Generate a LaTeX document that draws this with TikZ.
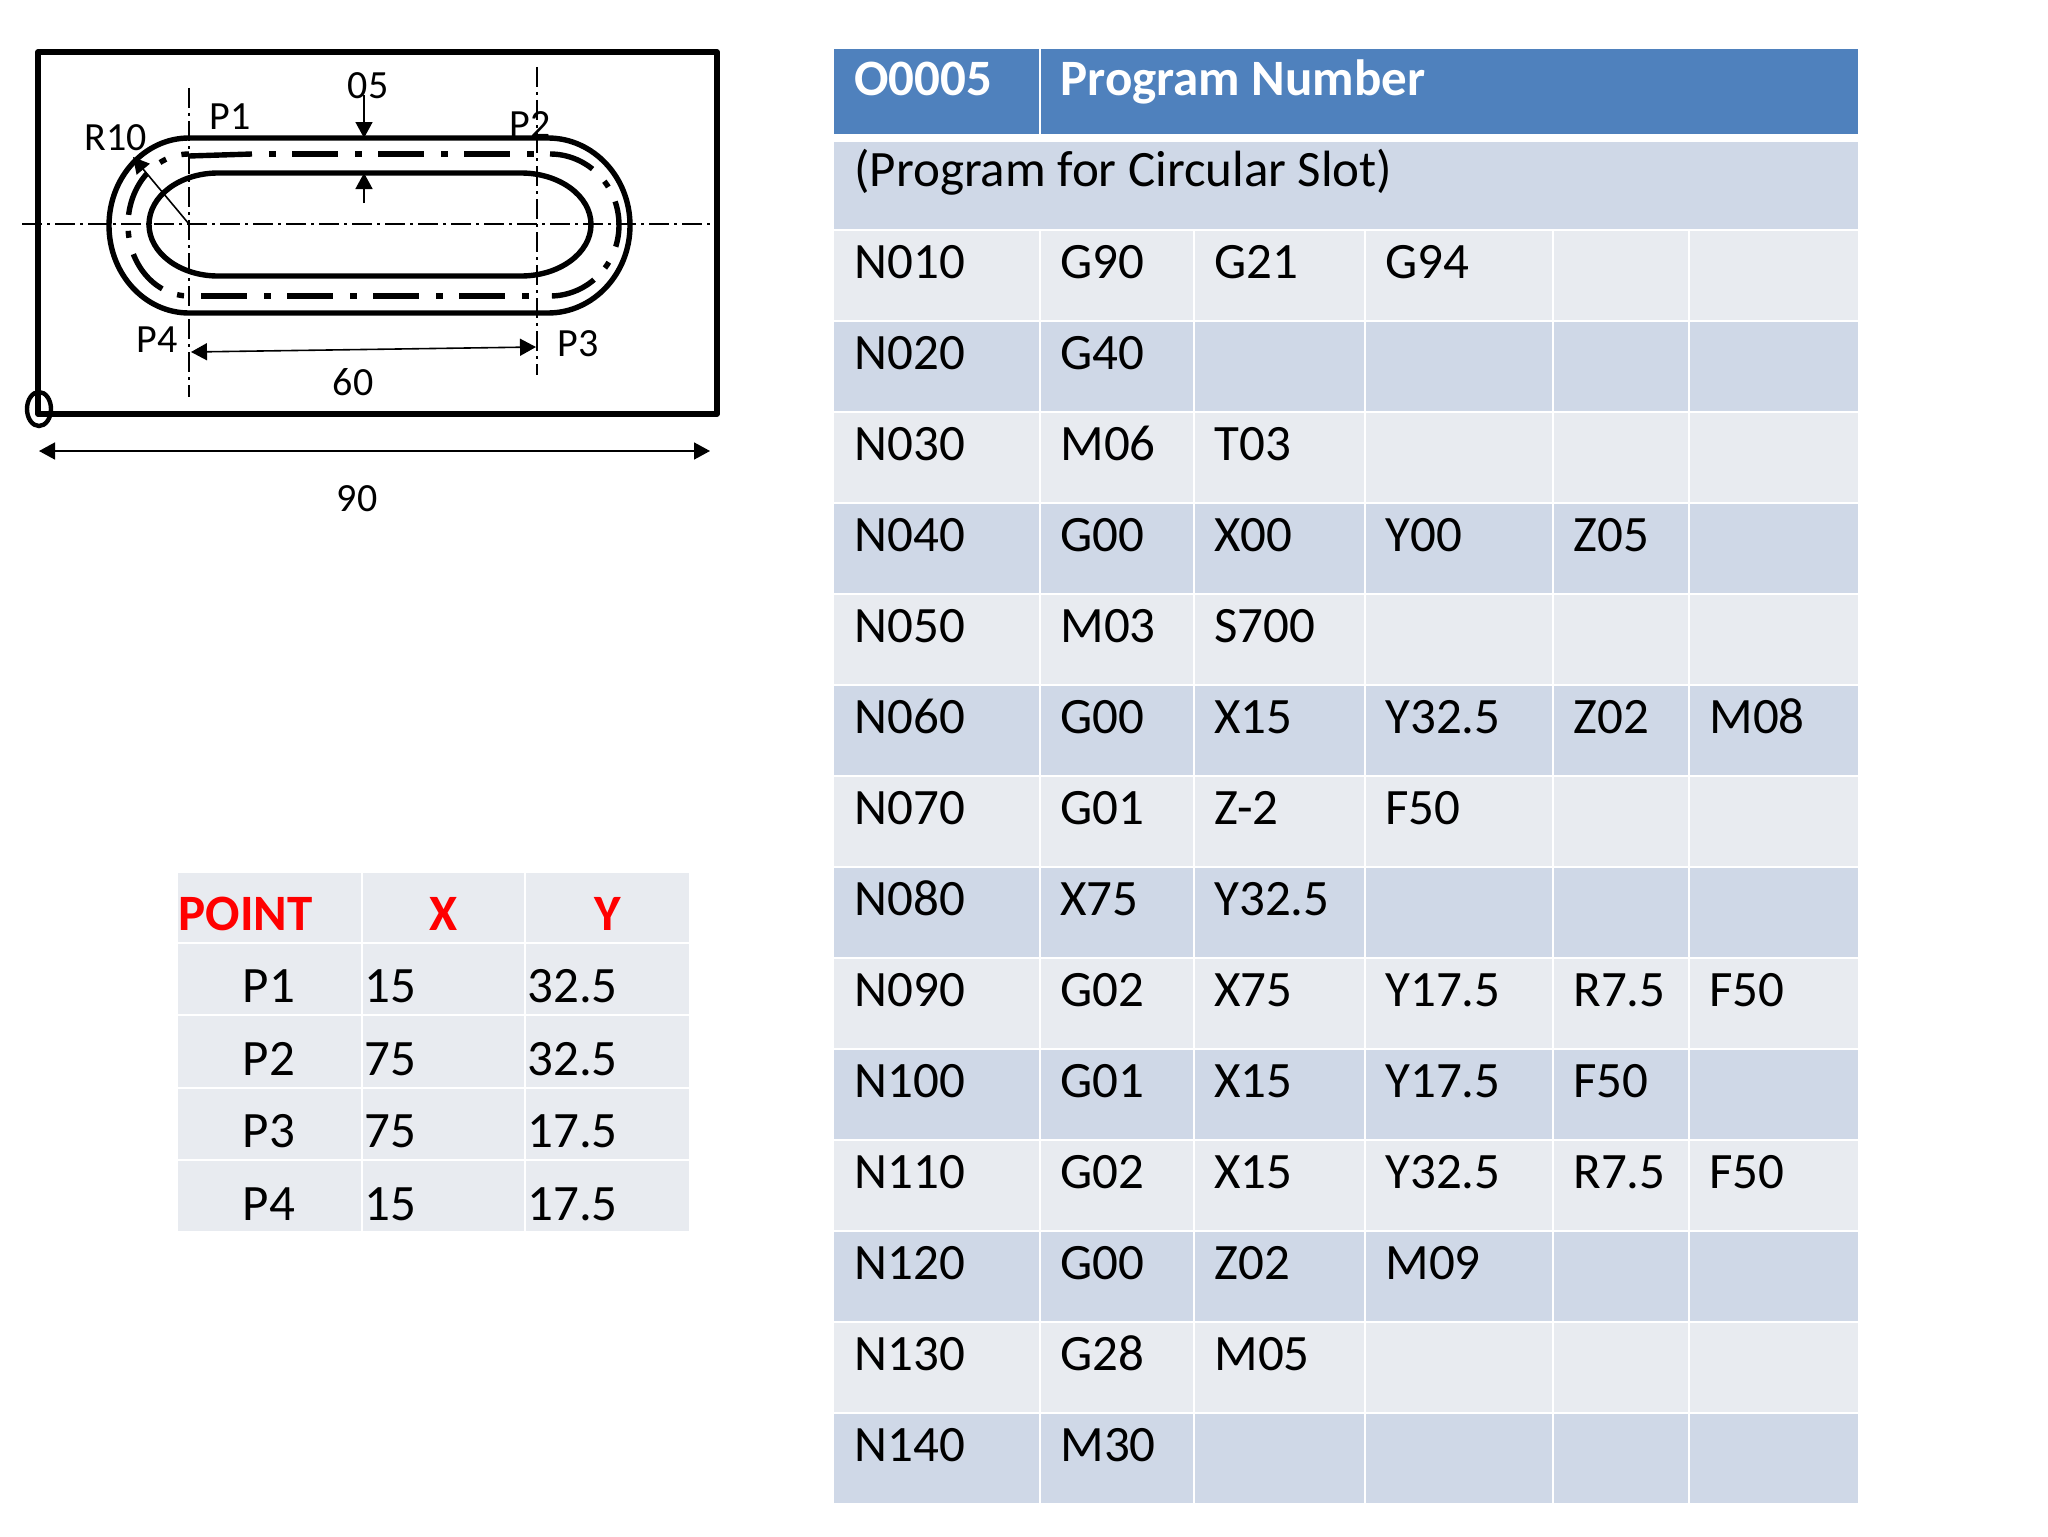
\documentclass[tikz,border=0pt]{standalone}
\usepackage{fontspec}
\setmainfont{Carlito}
\usetikzlibrary{arrows.meta}
\definecolor{headblue}{HTML}{4F81BD}
\definecolor{rowdark}{HTML}{CFD8E7}
\definecolor{rowlight}{HTML}{E8EBF0}
\tikzset{
  thickline/.style={line width=2.7pt,black,line join=round},
  cutpath/.style={line width=2.7pt,black,dash pattern=on 23pt off 8.5pt on 3.5pt off 8pt},
  centerline/.style={line width=0.8pt,black,dash pattern=on 10pt off 2.5pt on 1.5pt off 2.5pt},
  dimline/.style={line width=0.8pt,black,{Triangle[length=8pt,width=8.5pt]}-{Triangle[length=8pt,width=8.5pt]}},
  leader/.style={line width=0.8pt,black,-{Triangle[length=8pt,width=8.5pt]}},
  partlabel/.style={anchor=base,inner sep=0pt,font=\fontsize{20}{24}\selectfont},
  celltext/.style={anchor=base west,inner sep=0pt,font=\fontsize{25.5}{30}\selectfont},
  cellmid/.style={anchor=base,inner sep=0pt,font=\fontsize{25.5}{30}\selectfont},
  headtext/.style={celltext,text=white,font=\fontsize{25.5}{30}\selectfont\bfseries},
  redtext/.style={cellmid,text=red,font=\fontsize{25.5}{30}\selectfont\bfseries},
  cellbox/.style={draw=white,line width=1.3pt}
}

\begin{document}
\begin{tikzpicture}[x=0.5pt,y=-0.5pt]
\useasboundingbox (0,0) rectangle (2048,1536);

% Plate
\draw[thickline] (38,52) rectangle (717,414);
\draw[line width=2.2pt] (39,409) ellipse[x radius=12,y radius=17];

% Centre lines
\draw[centerline] (22,224) -- (716,224);
\draw[centerline] (189,88) -- (189,397);
\draw[centerline] (537,67) -- (537,375);

% Outer and inner slot
\draw[thickline] (189,138) -- (548,138) arc[start angle=-90,end angle=90,x radius=82,y radius=87.5]
  -- (189,313) arc[start angle=90,end angle=270,x radius=80,y radius=87.5];
\draw[thickline] (218,173) -- (521,173) arc[start angle=-90,end angle=90,x radius=70,y radius=51.5]
  -- (218,276) arc[start angle=90,end angle=270,x radius=69,y radius=51.5];

% Tool path
\draw[thickline] (189,156) -- (252,154);
\draw[cutpath,dash phase=31.5pt] (269,154) -- (540,154);
\draw[cutpath] (550,154) arc[start angle=-90,end angle=90,x radius=69,y radius=71];
\draw[cutpath] (201,296) -- (535,296);
\draw[cutpath,dash phase=29pt] (189,296) arc[start angle=90,end angle=270,x radius=61,y radius=71];

% Dimensions
\coordinate (radiusc) at (189,224);
\coordinate (radiusp) at (133,157);
\coordinate (depthtop) at (364,95);
\coordinate (depthout) at (364,138);
\coordinate (depthin) at (364,173);
\coordinate (depthlow) at (364,203);
\coordinate (pitchl) at (191,352);
\coordinate (pitchr) at (536,347);
\coordinate (widthl) at (39,451);
\coordinate (widthr) at (710,451);
\draw[leader] (radiusc) -- (radiusp);
\draw[leader] (depthtop) -- (depthout);
\draw[leader] (depthlow) -- (depthin);
\draw[dimline] (pitchl) -- (pitchr);
\draw[dimline] (widthl) -- (widthr);

% Drawing labels
\node[partlabel] (depth) at (368,98) {05};
\node[partlabel] (pa) at (230,129) {P1};
\node[partlabel] (pb) at (530,137) {P2};
\node[partlabel] (radius) at (116,150) {R10};
\node[partlabel] (pd) at (157,352) {P4};
\node[partlabel] (pc) at (578,356) {P3};
\node[partlabel] (pitch) at (353,395) {60};
\node[partlabel] (width) at (357,511) {90};

% Point table
\foreach \ya/\yb in {872/943,943/1015,1015/1088,1088/1160,1160/1232}
  \foreach \xa/\xb in {177/362,362/525,525/690}
    \fill[rowlight,cellbox] (\xa,\ya) rectangle (\xb,\yb);
\node[redtext,anchor=base west] (pointhead) at (178,930) {POINT};
\node[redtext] (xhead) at (444,930) {X};
\node[redtext] (yhead) at (608,930) {Y};
\foreach \pname/\px/\py/\ybase in {P1/15/32.5/1002,P2/75/32.5/1075,P3/75/17.5/1147,P4/15/17.5/1220} {
  \node[cellmid] (name\pname) at (269,\ybase) {\pname};
  \node[celltext] (x\pname) at (364,\ybase) {\px};
  \node[celltext] (y\pname) at (527,\ybase) {\py};
}

% Program table
\fill[headblue,cellbox] (833,48) rectangle (1040,135);
\fill[headblue,cellbox] (1040,48) rectangle (1859,135);
\fill[rowdark,cellbox] (833,141) rectangle (1859,230);
\node[headtext] (prognum) at (854,96) {O0005};
\node[headtext] (progtitle) at (1060,96) {Program Number};
\node[celltext] (progname) at (854,186) {(Program for Circular Slot)};
\foreach \i in {0,...,13} {
  \pgfmathtruncatemacro\ya{230+91*\i}
  \pgfmathtruncatemacro\yb{321+91*\i}
  \ifodd\i \colorlet{rowfill}{rowdark} \else \colorlet{rowfill}{rowlight} \fi
  \foreach \xa/\xb in {833/1040,1040/1194,1194/1365,1365/1553,1553/1689,1689/1859}
    \fill[rowfill,cellbox] (\xa,\ya) rectangle (\xb,\yb);
}
\foreach \na/\nb/\nc/\nd/\ne/\nf [count=\r from 0] in {
  N010/G90/G21/G94//,N020/G40////,N030/M06/T03///,N040/G00/X00/Y00/Z05/,
  N050/M03/S700///,N060/G00/X15/Y32.5/Z02/M08,N070/G01/Z-2/F50//,N080/X75/Y32.5///,
  N090/G02/X75/Y17.5/R7.5/F50,N100/G01/X15/Y17.5/F50/,N110/G02/X15/Y32.5/R7.5/F50,
  N120/G00/Z02/M09//,N130/G28/M05///,N140/M30////} {
  \pgfmathtruncatemacro\yt{278+91*\r}
  \node[celltext] (a\r) at (854,\yt) {\na};
  \node[celltext] (b\r) at (1060,\yt) {\nb};
  \node[celltext] (c\r) at (1214,\yt) {\nc};
  \node[celltext] (d\r) at (1385,\yt) {\nd};
  \node[celltext] (e\r) at (1573,\yt) {\ne};
  \node[celltext] (f\r) at (1709,\yt) {\nf};
}
\end{tikzpicture}
\end{document}
